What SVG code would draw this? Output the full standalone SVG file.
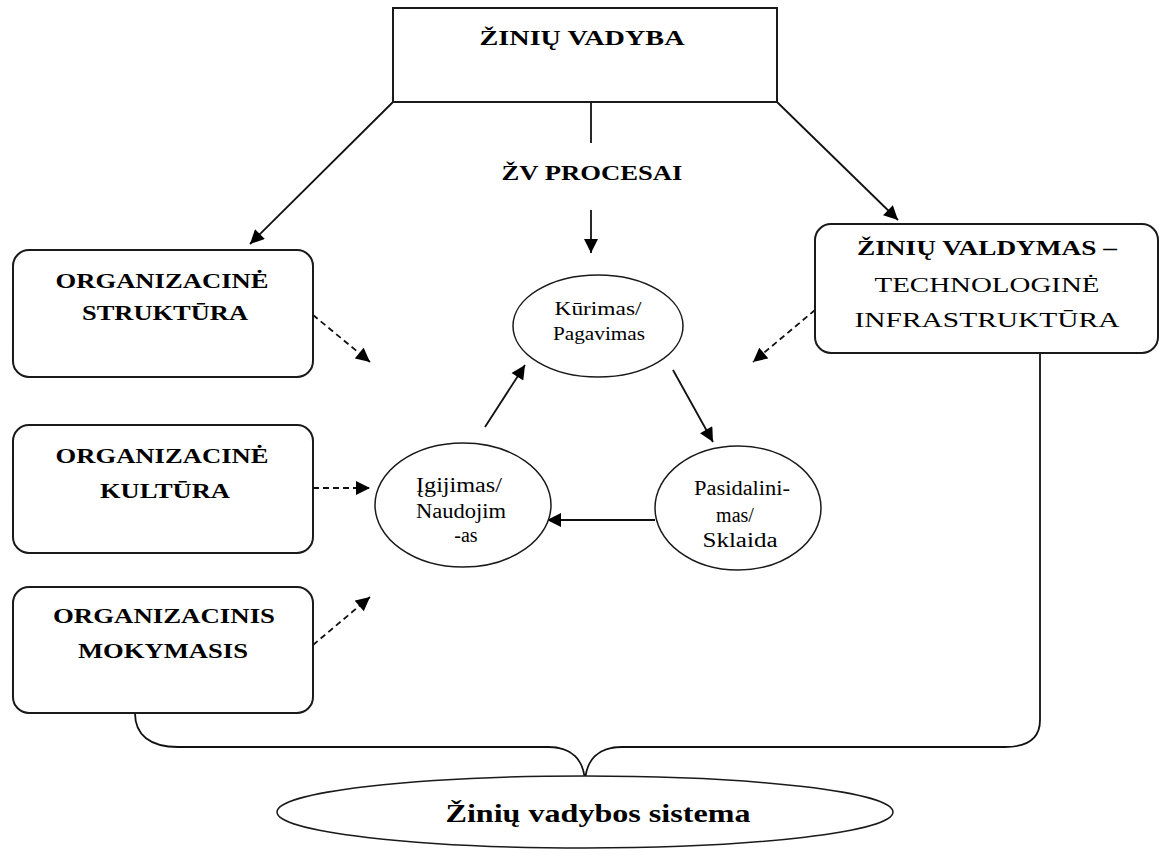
<svg xmlns="http://www.w3.org/2000/svg" width="1165" height="861" viewBox="0 0 1165 861">
<style>
.box{fill:#fff;stroke:#1a1a1a;stroke-width:2}
.ell{fill:#fff;stroke:#1a1a1a;stroke-width:1.5}
.ln{fill:none;stroke:#111;stroke-width:1.8}
.dash{fill:none;stroke:#111;stroke-width:1.8;stroke-dasharray:6 4}
.tb{font-family:"Liberation Serif",serif;font-weight:bold;fill:#000;text-anchor:middle}
.tr{font-family:"Liberation Serif",serif;fill:#000;text-anchor:middle}
</style>
<defs>
<marker id="ah" viewBox="0 0 10 10" refX="10" refY="5" markerWidth="15" markerHeight="14" markerUnits="userSpaceOnUse" orient="auto">
<path d="M0,0 L10,5 L0,10 Z" fill="#000"/>
</marker>
</defs>
<rect width="1165" height="861" fill="#fff"/>
<g id="connectors">
<line class="ln" x1="393" y1="102" x2="250" y2="244" marker-end="url(#ah)"/>
<line class="ln" x1="777" y1="102" x2="898" y2="220" marker-end="url(#ah)"/>
<line class="ln" x1="591" y1="102" x2="591" y2="143"/>
<line class="ln" x1="591" y1="210" x2="591" y2="253" marker-end="url(#ah)"/>
<line class="dash" x1="313" y1="315" x2="370" y2="362" marker-end="url(#ah)"/>
<line class="dash" x1="313" y1="488" x2="370" y2="488" marker-end="url(#ah)"/>
<line class="dash" x1="313" y1="645" x2="370" y2="597" marker-end="url(#ah)"/>
<line class="dash" x1="815" y1="310" x2="753" y2="362" marker-end="url(#ah)"/>
<line class="ln" x1="485" y1="427" x2="525" y2="365" marker-end="url(#ah)"/>
<line class="ln" x1="673" y1="370" x2="713" y2="442" marker-end="url(#ah)"/>
<line class="ln" x1="655" y1="520" x2="547" y2="520" marker-end="url(#ah)"/>
<path class="ln" d="M135,713 C135,735 150,747 178,747 L548,747 C572,747 584,760 585,782"/>
<path class="ln" d="M1040,353 L1040,720 C1040,738 1028,747 1005,747 L622,747 C598,747 586,760 585,782"/>
</g>
<g id="n-zinu-vadyba">
<rect class="box" x="393" y="8" width="384" height="94"/>
<text class="tb" x="582" y="45" font-size="22" textLength="205" lengthAdjust="spacingAndGlyphs">ŽINIŲ VADYBA</text>
</g>
<g id="n-zv-procesai">
<text class="tb" x="592" y="180" font-size="21" textLength="181" lengthAdjust="spacingAndGlyphs">ŽV PROCESAI</text>
</g>
<g id="n-org-struktura">
<rect class="box" x="13" y="250" width="300" height="127" rx="16"/>
<text class="tb" x="162" y="288" font-size="22" textLength="213" lengthAdjust="spacingAndGlyphs">ORGANIZACINĖ</text>
<text class="tb" x="165" y="320" font-size="22" textLength="166" lengthAdjust="spacingAndGlyphs">STRUKTŪRA</text>
</g>
<g id="n-org-kultura">
<rect class="box" x="13" y="425" width="300" height="128" rx="16"/>
<text class="tb" x="162" y="463" font-size="22" textLength="213" lengthAdjust="spacingAndGlyphs">ORGANIZACINĖ</text>
<text class="tb" x="165" y="498" font-size="22" textLength="130" lengthAdjust="spacingAndGlyphs">KULTŪRA</text>
</g>
<g id="n-org-mokymasis">
<rect class="box" x="13" y="587" width="300" height="126" rx="16"/>
<text class="tb" x="164" y="623" font-size="22" textLength="222" lengthAdjust="spacingAndGlyphs">ORGANIZACINIS</text>
<text class="tb" x="163" y="658" font-size="22" textLength="170" lengthAdjust="spacingAndGlyphs">MOKYMASIS</text>
</g>
<g id="n-zinu-valdymas">
<rect class="box" x="815" y="224" width="343" height="129" rx="16"/>
<text class="tb" x="987" y="255" font-size="22" textLength="260" lengthAdjust="spacingAndGlyphs">ŽINIŲ VALDYMAS –</text>
<text class="tr" x="987" y="292" font-size="22" textLength="225" lengthAdjust="spacingAndGlyphs">TECHNOLOGINĖ</text>
<text class="tr" x="987" y="327" font-size="22" textLength="265" lengthAdjust="spacingAndGlyphs">INFRASTRUKTŪRA</text>
</g>
<g id="n-kurimas">
<ellipse class="ell" cx="598" cy="326" rx="85" ry="51"/>
<text class="tr" x="598" y="315" font-size="18" textLength="87" lengthAdjust="spacingAndGlyphs">Kūrimas/</text>
<text class="tr" x="599" y="340" font-size="18" textLength="92" lengthAdjust="spacingAndGlyphs">Pagavimas</text>
</g>
<g id="n-igijimas">
<ellipse class="ell" cx="463" cy="505" rx="88" ry="62"/>
<text class="tr" x="459" y="492" font-size="20" textLength="86" lengthAdjust="spacingAndGlyphs">Įgijimas/</text>
<text class="tr" x="461" y="518" font-size="20" textLength="90" lengthAdjust="spacingAndGlyphs">Naudojim</text>
<text class="tr" x="466" y="542" font-size="20">-as</text>
</g>
<g id="n-pasidalinimas">
<ellipse class="ell" cx="738" cy="508" rx="83" ry="62"/>
<text class="tr" x="742" y="495" font-size="20" textLength="96" lengthAdjust="spacingAndGlyphs">Pasidalini-</text>
<text class="tr" x="735" y="522" font-size="20">mas/</text>
<text class="tr" x="740" y="547" font-size="20" textLength="75" lengthAdjust="spacingAndGlyphs">Sklaida</text>
</g>
<g id="n-sistema">
<ellipse class="ell" cx="585" cy="812" rx="308" ry="36"/>
<text class="tb" x="598" y="822" font-size="26" textLength="305" lengthAdjust="spacingAndGlyphs">Žinių vadybos sistema</text>
</g>
</svg>
